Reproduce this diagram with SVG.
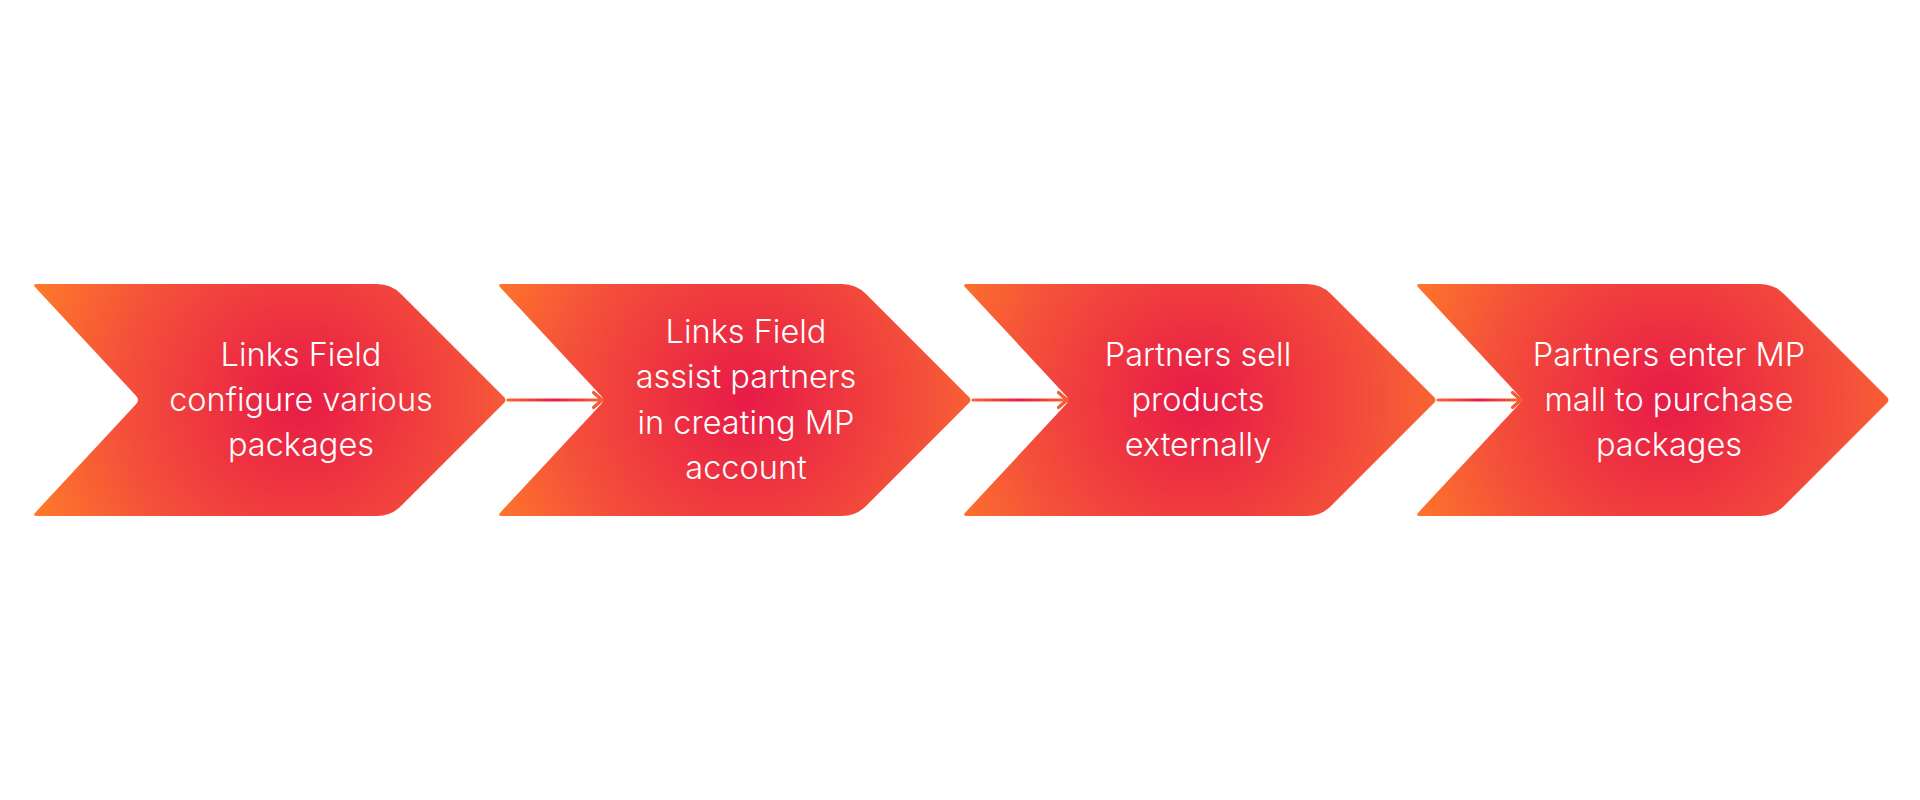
<svg xmlns="http://www.w3.org/2000/svg" width="1920" height="800" viewBox="0 0 1920 800">
  <defs>
    <style>
      .lbl { font-family: Inter, "Liberation Sans", "Noto Sans", sans-serif; font-size: 32.5px; font-weight: 300; fill: #ffffff; text-anchor: middle; }
      .conn { fill: none; stroke-width: 3.2; stroke-linecap: round; }
    </style>
    <path id="chev" d="M5,284 L345,284 Q359,284 369,294 L471,396 Q476,400 471,404 L369,506 Q359,516 345,516 L5,516 Q0,516 3.4,512.4 L104,404.3 Q108,400 104,395.7 L3.4,287.6 Q0,284 5,284 Z"/>
    <radialGradient id="g1" gradientUnits="userSpaceOnUse" cx="269" cy="400" r="295">
      <stop offset="0" stop-color="#E71B47"/>
      <stop offset="0.3" stop-color="#EE3440"/>
      <stop offset="0.62" stop-color="#F4513A"/>
      <stop offset="1" stop-color="#FF7C28"/>
    </radialGradient>
    <radialGradient id="g2" gradientUnits="userSpaceOnUse" cx="249" cy="400" r="295">
      <stop offset="0" stop-color="#E71B47"/>
      <stop offset="0.3" stop-color="#EE3440"/>
      <stop offset="0.62" stop-color="#F4513A"/>
      <stop offset="1" stop-color="#FF7C28"/>
    </radialGradient>
    <radialGradient id="g3" gradientUnits="userSpaceOnUse" cx="236" cy="400" r="295">
      <stop offset="0" stop-color="#E71B47"/>
      <stop offset="0.3" stop-color="#EE3440"/>
      <stop offset="0.62" stop-color="#F4513A"/>
      <stop offset="1" stop-color="#FF7C28"/>
    </radialGradient>
    <radialGradient id="g4" gradientUnits="userSpaceOnUse" cx="254" cy="400" r="295">
      <stop offset="0" stop-color="#E71B47"/>
      <stop offset="0.3" stop-color="#EE3440"/>
      <stop offset="0.62" stop-color="#F4513A"/>
      <stop offset="1" stop-color="#FF7C28"/>
    </radialGradient>
    <linearGradient id="a1" gradientUnits="userSpaceOnUse" x1="508" y1="0" x2="602" y2="0">
      <stop offset="0" stop-color="#F9692E"/>
      <stop offset="0.5" stop-color="#E81C46"/>
      <stop offset="1" stop-color="#F9692E"/>
    </linearGradient>
    <linearGradient id="a2" gradientUnits="userSpaceOnUse" x1="973" y1="0" x2="1067" y2="0">
      <stop offset="0" stop-color="#F9692E"/>
      <stop offset="0.5" stop-color="#E81C46"/>
      <stop offset="1" stop-color="#F9692E"/>
    </linearGradient>
    <linearGradient id="a3" gradientUnits="userSpaceOnUse" x1="1438" y1="0" x2="1521" y2="0">
      <stop offset="0" stop-color="#F9692E"/>
      <stop offset="0.5" stop-color="#E81C46"/>
      <stop offset="1" stop-color="#F9692E"/>
    </linearGradient>
    <marker id="head" markerUnits="userSpaceOnUse" markerWidth="16" markerHeight="20" refX="10" refY="8" orient="auto" overflow="visible">
      <path d="M1.5,0.5 L10,8 L1.5,15.5" fill="none" stroke="#F65B30" stroke-width="3.2" stroke-linecap="round" stroke-linejoin="round"/>
    </marker>
  </defs>
  <rect width="1920" height="800" fill="#ffffff"/>

  <g id="node1">
    <use href="#chev" x="32" fill="url(#g1)"/>
    <text class="lbl" x="301" y="366">Links Field</text>
    <text class="lbl" x="301" y="411">configure various</text>
    <text class="lbl" x="301" y="456">packages</text>
  </g>
  <g id="node2">
    <use href="#chev" x="497" fill="url(#g2)"/>
    <text class="lbl" x="746" y="343">Links Field</text>
    <text class="lbl" x="746" y="388">assist partners</text>
    <text class="lbl" x="746" y="434">in creating MP</text>
    <text class="lbl" x="746" y="479">account</text>
  </g>
  <g id="node3">
    <use href="#chev" x="962" fill="url(#g3)"/>
    <text class="lbl" x="1198" y="366">Partners sell</text>
    <text class="lbl" x="1198" y="411">products</text>
    <text class="lbl" x="1198" y="456">externally</text>
  </g>
  <g id="node4">
    <use href="#chev" x="1415" fill="url(#g4)"/>
    <text class="lbl" x="1669" y="366">Partners enter MP</text>
    <text class="lbl" x="1669" y="411">mall to purchase</text>
    <text class="lbl" x="1669" y="456">packages</text>
  </g>

  <g id="connectors">
    <path class="conn" d="M508,400 L602,400" stroke="url(#a1)" marker-end="url(#head)"/>
    <path class="conn" d="M973,400 L1067,400" stroke="url(#a2)" marker-end="url(#head)"/>
    <path class="conn" d="M1438,400 L1521,400" stroke="url(#a3)" marker-end="url(#head)"/>
  </g>
</svg>
